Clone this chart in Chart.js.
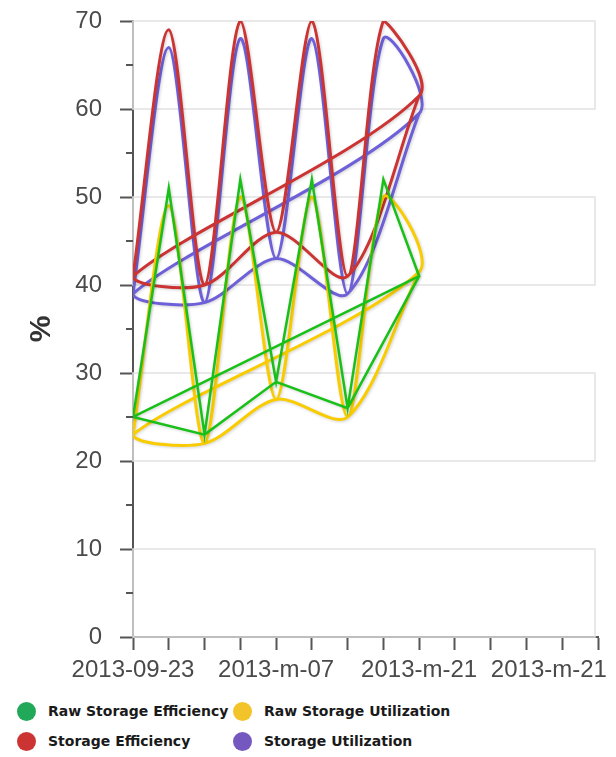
<!DOCTYPE html>
<html>
<head>
<meta charset="utf-8">
<script src="https://cdn.jsdelivr.net/npm/chart.js@4/dist/chart.umd.min.js"></script>
<style>
  body { margin: 0; background: #fff; }
  #wrap { position: relative; width: 616px; height: 687px; }
  #legend { position: absolute; left: 0; top: 700px; width: 616px; font: bold 14px "DejaVu Sans", sans-serif; color: #1a1a1a; }
  .item { position: absolute; height: 22px; line-height: 22px; white-space: nowrap; }
  .dot { display: inline-block; width: 19px; height: 19px; border-radius: 50%; vertical-align: middle; margin-right: 12px; position: relative; top: -1px; }
</style>
</head>
<body>
<div id="wrap"><canvas id="chart"></canvas></div>
<div id="legend"></div>
<script>
const tickLabels = ["2013-09-23", "2013-m-07", "2013-m-21", "2013-m-21"];
const seriesNames = ["Raw Storage Efficiency", "Raw Storage Utilization", "Storage Efficiency", "Storage Utilization"];
const rawEfficiency = [25, 51, 23, 52, 29, 52, 26, 52, 41];
const rawUtilization = [23, 49, 22, 50, 27, 50, 25, 50, 41.5];
const storageEfficiency = [41, 69, 40, 70, 46, 70, 41, 70, 61.5];
const storageUtilization = [39, 67, 38, 68, 43, 68, 39, 68, 59.5];
// the plotted path runs through every point, jumps back to the first and
// then over the even points again
const pathOrder = [0, 1, 2, 3, 4, 5, 6, 7, 8, 0, 2, 4, 6, 8];

const lineColors = ["#18c018", "#f8cc00", "#cc3333", "#6d60d8"];
const dotColors = ["#22a859", "#f2c42a", "#cc3333", "#7458bf"];
const lineWidths = [2.5, 3, 3, 3];
const tensions = [0, 0.3, 0.3, 0.3];

const allValues = [rawEfficiency, rawUtilization, storageEfficiency, storageUtilization];

function toPath(values) {
  return pathOrder.map((i) => ({ x: i, y: values[i] }));
}

const datasets = allValues.map((vals, k) => ({
  label: seriesNames[k],
  data: toPath(vals),
  showLine: true,
  borderColor: lineColors[k],
  backgroundColor: lineColors[k],
  borderWidth: lineWidths[k],
  tension: tensions[k],
  pointRadius: 0,
  pointHoverRadius: 0,
  fill: false,
}));

// alternate bordered bands + minor y ticks
const bandsPlugin = {
  id: "bands",
  beforeDatasetsDraw(chart) {
    const { ctx, chartArea, scales } = chart;
    const y = scales.y;
    ctx.save();
    ctx.strokeStyle = "#e2e2e2";
    ctx.lineWidth = 1.5;
    for (let v = 0; v < 70; v += 20) {
      const top = y.getPixelForValue(v + 10);
      const bot = y.getPixelForValue(v);
      ctx.strokeRect(chartArea.left, top, chartArea.right - 3 - chartArea.left, bot - top);
    }
    ctx.restore();
  },
  afterDraw(chart) {
    const { ctx, scales } = chart;
    const y = scales.y;
    ctx.save();
    ctx.strokeStyle = "#555";
    ctx.lineWidth = 2;
    for (let v = 5; v < 70; v += 10) {
      const py = Math.round(y.getPixelForValue(v));
      ctx.beginPath();
      ctx.moveTo(y.right - 7, py);
      ctx.lineTo(y.right, py);
      ctx.stroke();
    }
    ctx.restore();
  },
};

const shadowPlugin = {
  id: "shadow",
  beforeDatasetDraw(chart) {
    const ctx = chart.ctx;
    ctx.save();
    ctx.shadowColor = "rgba(0,0,0,0.18)";
    ctx.shadowBlur = 3;
    ctx.shadowOffsetX = 1;
    ctx.shadowOffsetY = 1;
  },
  afterDatasetDraw(chart) {
    chart.ctx.restore();
  },
};

const ctx = document.getElementById("chart");
new Chart(ctx, {
  type: "scatter",
  data: { datasets: datasets },
  options: {
    responsive: true,
    maintainAspectRatio: false,
    animation: false,
    layout: { padding: { top: 21, left: 0, right: 18, bottom: 0 } },
    plugins: { legend: { display: false }, tooltip: { enabled: false } },
    scales: {
      x: {
        type: "linear",
        min: 0,
        max: 13,
        afterFit(scale) {
          scale.paddingLeft = 0;
          scale.paddingRight = 0;
          scale.height = 50;
        },
        border: { color: "#555", width: 2 },
        grid: { drawOnChartArea: false, drawTicks: true, tickLength: 13, tickColor: "#555", tickWidth: 2 },
        ticks: {
          stepSize: 1,
          autoSkip: false,
          maxRotation: 0,
          padding: 6,
          color: "#4a4a4a",
          font: { family: "Liberation Sans", size: 24 },
          callback: (v) => {
            if (v % 4 !== 0) return "";
            // last label is pushed left so it stays inside the page
            return v === 12 ? tickLabels[3] + "\u00a0\u00a0\u00a0\u00a0" : tickLabels[v / 4];
          },
        },
      },
      y: {
        min: 0,
        max: 70,
        afterFit(scale) {
          scale.width = 133;
          scale.paddingTop = 0;
          scale.paddingBottom = 0;
        },
        border: { color: "#555", width: 2 },
        grid: { drawOnChartArea: false, drawTicks: true, tickLength: 13, tickColor: "#555", tickWidth: 2 },
        ticks: {
          stepSize: 10,
          padding: 18,
          color: "#4a4a4a",
          font: { family: "Liberation Sans", size: 24 },
        },
        title: {
          display: true,
          text: "%",
          color: "#333",
          padding: { top: 24, bottom: 0 },
          font: { family: "Liberation Sans", size: 30, weight: "bold" },
        },
      },
    },
  },
  plugins: [bandsPlugin, shadowPlugin],
});

// two-column legend under the chart
const legend = document.getElementById("legend");
const legendPos = [
  [17, 0], [233, 0],
  [17, 30], [233, 30],
];
seriesNames.forEach((name, k) => {
  const item = document.createElement("div");
  item.className = "item";
  item.style.left = legendPos[k][0] + "px";
  item.style.top = legendPos[k][1] + "px";
  const dot = document.createElement("span");
  dot.className = "dot";
  dot.style.background = dotColors[k];
  item.appendChild(dot);
  item.appendChild(document.createTextNode(name));
  legend.appendChild(item);
});
</script>
</body>
</html>
